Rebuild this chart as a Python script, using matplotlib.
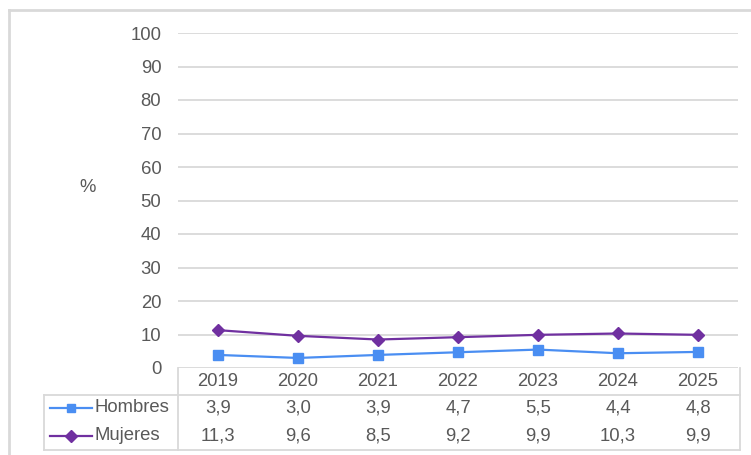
import numpy as np
import matplotlib.pyplot as plt
from matplotlib.lines import Line2D

plt.rcParams['font.family'] = ['Liberation Sans', 'DejaVu Sans']

# datos
years = ['2019', '2020', '2021', '2022', '2023', '2024', '2025']
hombres = [3.9, 3.0, 3.9, 4.7, 5.5, 4.4, 4.8]
mujeres = [11.3, 9.6, 8.5, 9.2, 9.9, 10.3, 9.9]
series_names = ['Hombres', 'Mujeres']
yticks = list(range(0, 101, 10))

c_h = '#4a8ef2'
c_m = '#7030a0'
txt = '#595959'
grid = '#d9d9d9'
fs = 13.3

W, H = 751, 455
fig = plt.figure(figsize=(W / 100, H / 100), dpi=100)

def fx(px):
    return px / W

def fy(py):
    return 1 - py / H

ax = fig.add_axes([fx(178), fy(368), fx(738) - fx(178), fy(33) - fy(368)])
x = np.arange(len(years))
ax.set_xlim(-0.5, len(years) - 0.5)
ax.set_ylim(0, 100)
ax.set_yticks(yticks)
ax.set_yticklabels([str(t) for t in yticks], fontsize=fs, color=txt)
ax.tick_params(axis='y', length=0, pad=12)
ax.set_xticks([])
for s in ax.spines.values():
    s.set_visible(False)
for t in yticks:
    ax.axhline(t, color=grid, lw=1.3, zorder=0)

ax.plot(x, hombres, color=c_h, lw=1.6, marker='s', ms=6.5, zorder=3)
ax.plot(x, mujeres, color=c_m, lw=1.6, marker='D', ms=6.5, zorder=3)

fig.text(fx(88), fy(188), '%', fontsize=fs, color=txt, ha='center', va='center')

# tabla de datos
def hline(x0, x1, y):
    fig.add_artist(Line2D([fx(x0), fx(x1)], [fy(y), fy(y)], color=grid, lw=1.3))

def vline(xp, y0, y1):
    fig.add_artist(Line2D([fx(xp), fx(xp)], [fy(y0), fy(y1)], color=grid, lw=1.3))

hline(44, 740, 395)
hline(44, 740, 450)
vline(44, 395, 450)
vline(178, 368, 450)
vline(740, 368, 450)

trans = ax.get_xaxis_transform()
ax_bottom_px = 368
ax_h_px = 368 - 33

def ay(py):
    return (ax_bottom_px - py) / ax_h_px

for i, yr in enumerate(years):
    ax.text(i, ay(381), yr, transform=trans, ha='center', va='center',
            fontsize=fs, color=txt, clip_on=False)
    ax.text(i, ay(408), f'{hombres[i]:.1f}'.replace('.', ','), transform=trans,
            ha='center', va='center', fontsize=fs, color=txt, clip_on=False)
    ax.text(i, ay(436), f'{mujeres[i]:.1f}'.replace('.', ','), transform=trans,
            ha='center', va='center', fontsize=fs, color=txt, clip_on=False)

for name, col, mk, py in [(series_names[0], c_h, 's', 408), (series_names[1], c_m, 'D', 436)]:
    fig.add_artist(Line2D([fx(50), fx(92)], [fy(py), fy(py)], color=col, lw=1.6))
    fig.add_artist(Line2D([fx(71)], [fy(py)], color=col, marker=mk, ms=6, lw=0))
    fig.text(fx(95), fy(py), name, fontsize=fs, color=txt, ha='left', va='center')

# marco exterior
fig.add_artist(Line2D([fx(9), fx(751)], [fy(10), fy(10)], color=grid, lw=2))
fig.add_artist(Line2D([fx(9), fx(9)], [fy(10), fy(455)], color=grid, lw=2))

fig.savefig('out.png', dpi=100)
